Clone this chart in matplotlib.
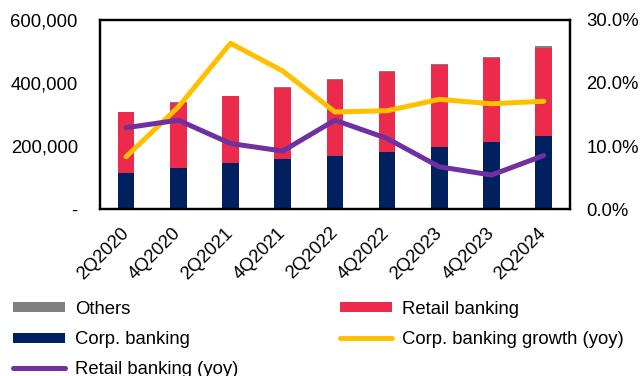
import matplotlib.pyplot as plt
from matplotlib.lines import Line2D
from matplotlib.ticker import FuncFormatter
import matplotlib.transforms as mtransforms
import numpy as np

plt.rcParams['font.family'] = ['Liberation Sans', 'DejaVu Sans']
plt.rcParams['font.size'] = 13.3

quarters = ['2Q2020', '4Q2020', '2Q2021', '4Q2021', '2Q2022',
            '4Q2022', '2Q2023', '4Q2023', '2Q2024']
corp = [115000, 129000, 146000, 158000, 169000, 182000, 198000, 214000, 233000]
retail = [192000, 208000, 212000, 226000, 242000, 254000, 259000, 266000, 279000]
others = [2000, 2000, 2000, 2000, 2000, 2000, 3000, 2000, 4000]
corp_growth = [8.3, 16.2, 26.3, 21.9, 15.4, 15.6, 17.4, 16.7, 17.1]
retail_growth = [12.9, 14.1, 10.4, 9.2, 14.1, 11.2, 6.7, 5.4, 8.5]

c_corp = '#002060'
c_retail = '#EC2B4C'
c_others = '#808080'
c_yellow = '#FFC000'
c_purple = '#7030A0'

fig = plt.figure(figsize=(6.41, 3.76), dpi=100)
ax = fig.add_axes([0.156, 0.444, 0.733, 0.503])
x = np.arange(len(quarters))
w = 0.32

# stacked loan book bars
ax.bar(x, corp, w, color=c_corp)
ax.bar(x, retail, w, bottom=corp, color=c_retail)
ax.bar(x, others, w, bottom=np.add(corp, retail), color=c_others)

ax.set_xlim(-0.5, len(quarters) - 0.5)
ax.set_ylim(0, 600000)
ax.set_yticks([0, 200000, 400000, 600000])
ax.yaxis.set_major_formatter(FuncFormatter(lambda v, p: '-' if v == 0 else f'{v:,.0f}'))
ax.tick_params(axis='y', length=0, pad=16)
ax.tick_params(axis='x', length=0, pad=11)
ax.set_xticks(x)
ax.set_xticklabels(quarters, rotation=45, ha='right', rotation_mode='anchor')
shift = mtransforms.ScaledTranslation(-6 / 100, 0, fig.dpi_scale_trans)
for lbl in ax.get_xticklabels():
    lbl.set_transform(lbl.get_transform() + shift)
for s in ax.spines.values():
    s.set_linewidth(1.6)

# growth rates on the right axis
ax2 = ax.twinx()
ax2.plot(x, corp_growth, color=c_yellow, lw=3.6, solid_capstyle='round', solid_joinstyle='round')
ax2.plot(x, retail_growth, color=c_purple, lw=3.6, solid_capstyle='round', solid_joinstyle='round')
ax2.set_ylim(0, 30)
ax2.set_yticks([0, 10, 20, 30])
ax2.yaxis.set_major_formatter(FuncFormatter(lambda v, p: f'{v:.1f}%'))
ax2.tick_params(axis='y', length=0, pad=12)
for s in ax2.spines.values():
    s.set_linewidth(1.6)

handles = [
    Line2D([], [], color=c_others, lw=7.2, solid_capstyle='butt'),
    Line2D([], [], color=c_corp, lw=7.2, solid_capstyle='butt'),
    Line2D([], [], color=c_purple, lw=3.6, solid_capstyle='round'),
    Line2D([], [], color=c_retail, lw=7.2, solid_capstyle='butt'),
    Line2D([], [], color=c_yellow, lw=3.6, solid_capstyle='round'),
]
labels = ['Others', 'Corp. banking', 'Retail banking (yoy)',
          'Retail banking', 'Corp. banking growth (yoy)']
fig.legend(handles, labels, ncol=2, loc='upper left',
           bbox_to_anchor=(0.012, 0.215), frameon=False,
           handlelength=2.8, handletextpad=0.55, columnspacing=5.5,
           labelspacing=0.72, borderaxespad=0, borderpad=0.3)

fig.savefig('out.png', dpi=100)
